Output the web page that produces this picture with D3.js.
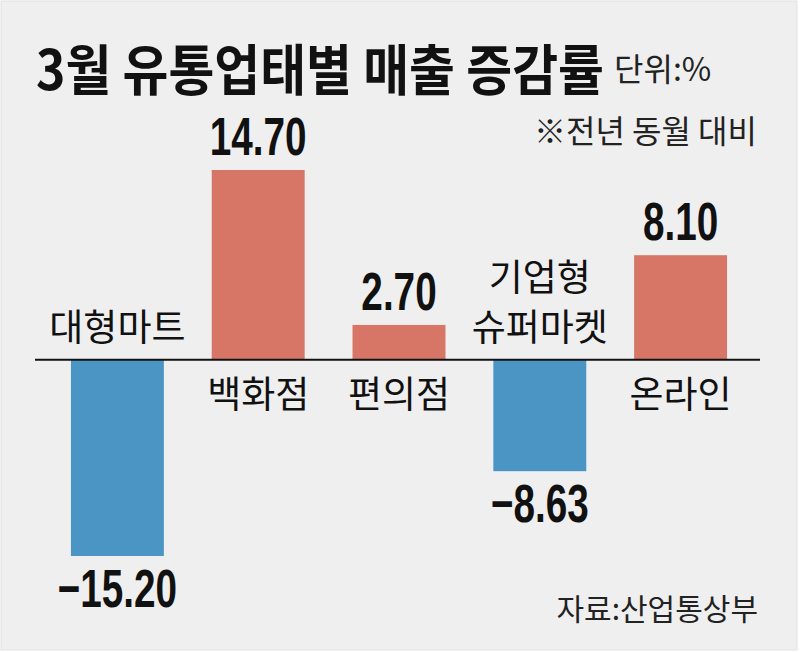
<!DOCTYPE html>
<html>
<head>
<meta charset="utf-8">
<script src="https://cdn.jsdelivr.net/npm/d3@7"></script>
<style>
  body { margin: 0; background: #fff; }
  svg { display: block; }
</style>
</head>
<body>
<div id="chart"></div>
<script>
// values
var categories = ["대형마트", "백화점", "편의점", "기업형 슈퍼마켓", "온라인"];
var catLines = [["대형마트"], ["백화점"], ["편의점"], ["기업형", "슈퍼마켓"], ["온라인"]];
var values = [-15.20, 14.70, 2.70, -8.63, 8.10];
var valueLabels = ["\u221215.20", "14.70", "2.70", "\u22128.63", "8.10"];

var width = 800, height = 652;
var red = "#d77566", blue = "#4b95c5";
var kr = "'Noto Sans CJK KR', 'Noto Sans', sans-serif";
var num = "'Liberation Sans', Arial, sans-serif";

var svg = d3.select("#chart").append("svg")
    .attr("width", width)
    .attr("height", height);

//background panel
svg.append("rect")
    .attr("x", 1).attr("y", 1)
    .attr("width", width - 4).attr("height", height - 3)
    .attr("fill", "#efefef")
    .attr("stroke", "#e2e2e2");

//scales
var x = d3.scaleBand()
    .domain(categories)
    .range([47, 751])
    .paddingInner(0.34)
    .paddingOuter(0.17);

var y = d3.scaleLinear()
    .domain([-15.2, 14.7])
    .range([556, 170]);

var y0 = y(0);

//title, squeezed to the narrow width of the original face
var title = svg.append("text")
    .attr("font-family", kr)
    .attr("font-weight", 700)
    .attr("font-size", 55)
    .attr("fill", "#111")
    .text("3월 유통업태별 매출 증감률");
var tw = title.node().getComputedTextLength();
title.attr("transform", "translate(36,90) scale(" + (568 / tw) + ",1)");

svg.append("text")
    .attr("x", 614).attr("y", 81)
    .attr("font-family", kr)
    .attr("font-size", 32)
    .attr("fill", "#222")
    .text("단위:%");

svg.append("text")
    .attr("x", 757).attr("y", 143)
    .attr("text-anchor", "end")
    .attr("font-family", kr)
    .attr("font-size", 32)
    .attr("fill", "#222")
    .text("※전년 동월 대비");

//bars
svg.selectAll(".bar")
    .data(values)
    .enter()
    .append("rect")
    .attr("class", "bar")
    .attr("x", function (d, i) { return x(categories[i]); })
    .attr("y", function (d) { return Math.min(y(d), y0); })
    .attr("width", x.bandwidth())
    .attr("height", function (d) { return Math.abs(y(d) - y0); })
    .attr("fill", function (d) { return d < 0 ? blue : red; });

//zero line
svg.append("line")
    .attr("x1", 35).attr("x2", 760)
    .attr("y1", y0).attr("y2", y0)
    .attr("stroke", "#111")
    .attr("stroke-width", 2);

//value labels (condensed numerals)
svg.selectAll(".val")
    .data(values)
    .enter()
    .append("text")
    .attr("class", "val")
    .attr("transform", function (d, i) {
        var cx = x(categories[i]) + x.bandwidth() / 2;
        var ty = d < 0 ? y(d) + 51 : y(d) - 15;
        return "translate(" + cx + "," + ty + ") scale(0.73,1)";
    })
    .attr("text-anchor", "middle")
    .attr("font-family", num)
    .attr("font-weight", 700)
    .attr("font-size", 53)
    .attr("fill", "#111")
    .text(function (d, i) { return valueLabels[i]; });

//category labels, above the line for negative bars, below for positive
var cat = svg.selectAll(".cat")
    .data(values)
    .enter()
    .append("text")
    .attr("class", "cat")
    .attr("text-anchor", "middle")
    .attr("font-family", kr)
    .attr("font-size", 37)
    .attr("fill", "#111");

cat.each(function (d, i) {
    var lines = catLines[i];
    var cx = x(categories[i]) + x.bandwidth() / 2;
    var t = d3.select(this);
    lines.forEach(function (ln, j) {
        var yy = d < 0 ? y0 - 19 - (lines.length - 1 - j) * 50 : y0 + 48 + j * 50;
        t.append("tspan").attr("x", cx).attr("y", yy).text(ln);
    });
});

//source
svg.append("text")
    .attr("x", 758).attr("y", 620)
    .attr("text-anchor", "end")
    .attr("font-family", kr)
    .attr("font-size", 30)
    .attr("fill", "#222")
    .text("자료:산업통상부");
</script>
</body>
</html>
